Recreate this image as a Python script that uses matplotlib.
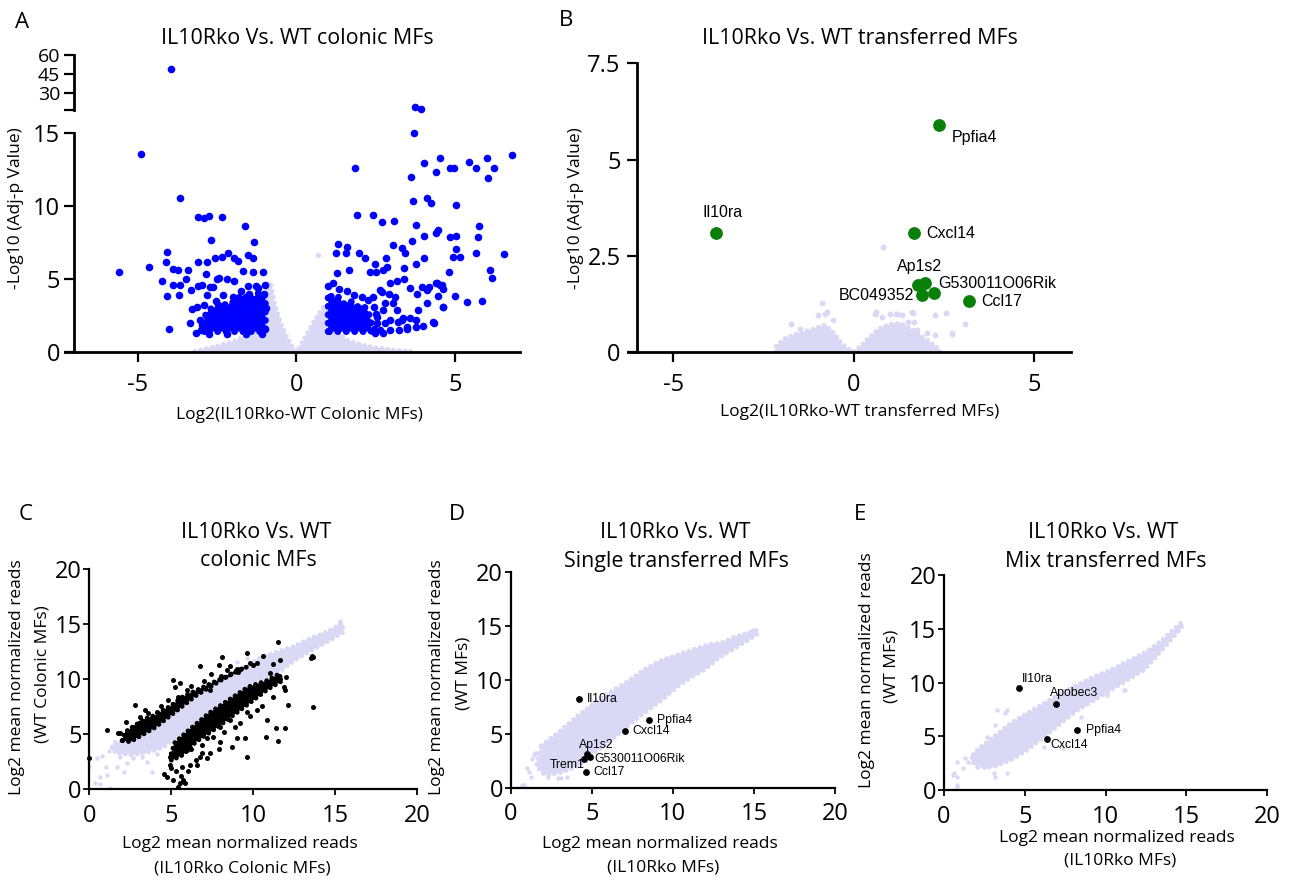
import numpy as np
import matplotlib
matplotlib.use("Agg")
import matplotlib.pyplot as plt

W, H = 1292, 881
LAV = "#d9d9f6"
BLUE = "#0000ff"
GREEN = "#0a7f0a"
FONT = "Open Sans"
GENE_FONT = "Liberation Sans"

# ---------------- panel A (volcano, colonic) ----------------
a_bg_outline = [(-3.2, 0.05), (-2.6, 0.35), (-2.0, 0.7), (-1.5, 1.2), (-1.15, 2.4), (-0.95, 4.0),
                (-0.82, 4.8), (-0.7, 3.4), (-0.5, 2.0), (-0.3, 1.0), (-0.12, 0.3), (0.0, 0.02),
                (0.12, 0.4), (0.3, 1.1), (0.5, 1.9), (0.7, 2.6), (0.85, 3.1), (0.98, 3.2),
                (1.2, 1.6), (1.6, 0.8), (2.2, 0.4), (3.0, 0.15), (3.6, 0.05), (3.6, 0.0), (-3.2, 0.0)]
a_bg_pts = [(0.67, 6.67)]
a_left_core = [(-2.9, 1.4), (-2.9, 2.4), (-2.75, 2.9), (-2.55, 3.1), (-2.4, 3.4), (-2.2, 3.2),
               (-2.0, 3.4), (-1.85, 3.7), (-1.65, 3.9), (-1.45, 3.5), (-1.25, 4.0), (-1.05, 4.1),
               (-0.98, 3.7), (-0.98, 1.4)]
a_right_core = [(1.0, 1.4), (1.0, 4.0), (1.15, 3.7), (1.3, 3.8), (1.5, 3.3), (1.7, 3.5),
                (1.9, 3.1), (2.1, 3.2), (2.25, 2.8), (2.35, 2.1), (2.35, 1.4)]
a_blue_pts = [
    (-4.89, 13.58), (-3.67, 10.55), (-3.09, 9.22), (-2.91, 9.16), (-2.76, 9.34), (-2.36, 9.22),
    (-1.63, 8.65), (-2.69, 7.65), (-1.33, 7.53), (-4.09, 6.83), (-2.15, 6.80), (-1.52, 6.64),
    (-2.34, 6.53), (-2.58, 6.46), (-1.96, 6.42), (-1.83, 6.26), (-1.36, 6.46), (-4.11, 6.14),
    (-4.64, 5.84), (-5.58, 5.46), (-3.09, 6.14), (-2.81, 6.14), (-3.88, 5.66), (-3.72, 5.62),
    (-3.43, 5.62), (-1.68, 5.55), (-1.38, 5.46), (-1.04, 5.46), (-2.85, 5.34), (-4.24, 4.84),
    (-3.48, 5.02), (-3.90, 4.57), (-3.67, 4.57), (-2.51, 5.02), (-2.43, 5.05), (-2.19, 5.0),
    (-1.96, 4.86), (-1.54, 4.54), (-1.26, 4.50), (-1.01, 3.95), (-3.33, 4.25), (-3.09, 4.54),
    (-2.98, 4.61), (-2.72, 4.43), (-2.64, 4.43), (-4.09, 3.84), (-3.70, 3.90), (-2.81, 3.88),
    (-3.30, 2.95), (-3.14, 3.11), (-3.34, 2.01), (-4.00, 1.55), (-3.18, 1.32), (-2.99, 1.85),
    (-2.9, 3.2), (-2.55, 3.5), (-2.3, 3.9), (-2.0, 3.8), (-1.75, 4.2), (-1.5, 3.95), (-1.2, 4.35),
    (-1.0, 4.6), (-1.15, 2.9), (-0.95, 3.0), (-3.05, 2.2), (-3.0, 1.5), (-2.75, 1.25),
    (-2.2, 1.25), (-1.6, 1.25), (-1.1, 1.25), (-1.0, 1.6),
    (1.84, 12.63), (4.03, 12.97), (4.52, 13.31), (5.44, 13.04), (5.99, 13.31), (4.41, 12.31),
    (4.83, 12.63), (4.96, 12.63), (5.67, 12.63), (3.61, 11.99), (6.04, 11.89), (6.80, 13.47),
    (6.22, 12.63), (3.70, 15.0), (3.66, 10.37), (4.10, 10.57), (4.23, 10.18), (5.04, 10.09),
    (1.92, 9.41), (2.41, 9.41), (2.68, 8.88), (3.08, 8.99), (3.76, 8.70), (5.76, 8.65),
    (4.03, 7.97), (4.41, 8.13), (4.47, 8.36), (4.83, 7.90), (5.04, 7.97), (5.73, 7.90),
    (3.63, 7.60), (3.05, 7.31), (3.32, 7.12), (3.42, 6.76), (1.32, 7.40), (1.26, 6.80),
    (1.58, 7.17), (1.56, 6.76), (1.98, 6.80), (2.16, 6.46), (2.82, 6.46), (2.47, 6.00),
    (2.71, 5.62), (2.84, 5.84), (3.75, 6.03), (4.03, 6.46), (4.92, 6.53), (5.15, 6.53),
    (5.04, 7.03), (5.64, 6.76), (6.54, 6.74), (4.80, 5.48), (1.29, 5.43), (1.65, 5.62),
    (2.32, 5.48), (2.51, 5.50), (3.39, 5.73), (3.39, 5.02), (6.10, 5.59), (6.16, 5.09),
    (4.62, 4.32), (4.99, 3.81), (5.36, 3.45), (5.85, 3.52), (4.31, 2.03), (3.97, 1.80),
    (3.77, 1.69), (3.47, 1.55), (3.24, 1.51), (3.36, 2.35), (3.57, 2.35), (3.83, 2.88),
    (4.10, 3.33), (4.52, 4.59), (4.43, 4.70), (3.96, 4.43), (3.81, 3.97), (4.18, 4.47),
    (3.57, 4.36), (3.16, 4.89), (2.95, 4.70), (2.68, 4.13), (2.92, 3.97), (3.10, 3.79),
    (4.61, 3.08), (4.32, 1.99), (4.46, 3.81), (4.57, 4.57), (4.40, 4.73),
    (2.63, 1.51), (2.79, 1.96), (2.94, 2.19), (3.16, 2.88), (3.05, 3.33), (3.31, 2.19),
    (2.53, 2.42), (2.74, 2.88), (2.42, 3.79), (2.63, 4.25), (2.79, 3.33), (2.47, 1.28),
    (2.74, 1.28), (2.94, 1.51), (3.20, 2.08), (3.47, 1.74), (3.78, 2.19), (4.10, 4.25),
    (4.63, 3.11), (1.0, 4.5), (1.15, 4.75), (1.35, 4.3), (1.6, 4.2), (1.8, 3.9), (2.05, 3.75),
    (2.25, 3.55), (2.45, 3.1), (2.5, 2.6), (2.55, 2.0), (2.45, 1.6),
]
a_blue_top = [(-3.96, 48.7), (3.73, 18.8), (3.91, 16.9)]

# ---------------- panel B (volcano, transferred) ----------------
b_bg_outline = [(-2.15, 0.15), (-1.9, 0.35), (-1.5, 0.5), (-1.1, 0.6), (-0.8, 0.7), (-0.6, 0.55),
                (-0.4, 0.3), (-0.2, 0.1), (0.0, 0.01), (0.2, 0.15), (0.4, 0.35), (0.7, 0.6),
                (1.0, 0.72), (1.3, 0.75), (1.6, 0.6), (1.9, 0.4), (2.2, 0.2), (2.4, 0.05),
                (2.4, 0.0), (-2.15, 0.0)]
b_bg_pts = [(0.82, 2.73), (-0.88, 1.27), (-0.79, 1.0), (-0.56, 0.82), (-1.75, 0.74), (-1.92, 0.22),
            (0.6, 1.0), (1.17, 1.0), (1.65, 1.02), (2.26, 0.97), (2.56, 1.01), (3.08, 0.74),
            (2.73, 0.48), (2.26, 0.43), (1.96, 0.26), (-0.75, 1.03), (0.61, 1.03), (1.01, 1.0),
            (1.21, 1.0), (1.61, 1.03), (1.52, 0.79), (1.68, 0.79), (2.03, 0.49), (2.72, 0.49),
            (1.75, 0.57), (-1.3, 0.5), (-1.5, 0.6), (-1.0, 0.95), (0.8, 0.9), (1.35, 0.95)]
b_green_pts = [(-3.81, 3.09), (2.38, 5.91), (1.68, 3.09), (1.79, 1.73), (1.98, 1.79),
               (1.89, 1.47), (2.23, 1.52), (3.20, 1.32)]
b_labels = ["Il10ra", "Ppfia4", "Cxcl14", "Ap1s2", "G530011O06Rik", "BC049352", "Ccl17"]
b_label_pos = [(-3.64, 3.62, "center"), (2.71, 5.56, "left"), (2.01, 3.09, "left"),
               (1.84, 2.23, "center"), (2.34, 1.77, "left"), (1.68, 1.47, "right"),
               (3.53, 1.32, "left")]

# ---------------- panel C (scatter, colonic) ----------------
c_bg_outline = [(1.4, 3.8), (1.6, 4.3), (2.4, 4.1), (4.0, 5.4), (5.3, 6.9), (6.5, 8.3), (7.7, 9.4),
                (8.9, 10.6), (9.7, 11.3), (10.5, 12.0), (11.5, 12.5), (12.5, 13.0), (13.5, 13.7),
                (14.5, 14.3), (15.4, 15.1), (15.5, 14.3), (14.5, 13.4), (13.5, 12.6), (12.5, 11.7),
                (11.8, 10.9), (10.96, 10.2), (9.74, 9.6), (8.52, 8.39), (7.3, 7.18), (6.08, 5.67),
                (5.06, 4.45), (4.5, 3.8), (3.5, 3.3), (2.5, 3.1), (1.6, 3.3)]
c_bg_pts = [(0.0, 2.0), (0.45, 2.8), (0.65, 1.1), (0.65, 0.5), (1.26, 0.06), (1.67, 2.0),
            (2.11, 1.58), (2.68, 2.79), (2.89, 3.24), (3.5, 2.48), (3.8, 1.58), (2.28, 2.33),
            (1.06, 1.27), (0.35, 0.52), (1.0, 1.97), (12.85, 12.9), (14.07, 13.85), (14.67, 14.15),
            (15.08, 14.6), (15.28, 15.3), (12.44, 12.6), (13.66, 13.4), (1.2, 3.5), (0.8, 3.0),
            (1.9, 2.9), (3.2, 2.9), (4.1, 3.2), (9.0, 11.6), (9.6, 11.9)]
c_upper_band = [(2.0, 4.4), (2.2, 5.2), (2.6, 5.6), (3.4, 6.4), (4.0, 6.7), (5.0, 7.6), (5.7, 8.4),
                (6.7, 9.1), (7.7, 9.8), (8.5, 10.3), (9.4, 11.0), (9.6, 11.1), (8.9, 10.7),
                (7.7, 9.6), (6.5, 8.5), (5.3, 7.1), (4.0, 5.6), (2.5, 4.3)]
c_lower_band = [(5.0, 3.2), (5.2, 4.2), (6.1, 5.4), (7.3, 6.9), (8.5, 8.1), (9.7, 9.3),
                (10.9, 9.9), (11.6, 10.5), (11.7, 9.8), (10.9, 9.1), (10.1, 8.2), (9.3, 7.3),
                (8.5, 6.4), (7.7, 5.5), (6.5, 4.3), (5.7, 3.1), (5.0, 2.6)]
c_black_pts = [
    (11.48, 13.39), (13.62, 12.03), (13.55, 12.15), (13.5, 11.95), (13.66, 7.48), (11.93, 9.0),
    (12.13, 7.64), (11.38, 5.52), (11.93, 5.52), (11.52, 4.39), (10.75, 4.76), (9.63, 2.94),
    (9.49, 4.61), (8.98, 4.61), (8.68, 3.85), (7.97, 4.30), (7.56, 4.76), (7.36, 3.24),
    (7.15, 2.79), (6.75, 2.94), (6.54, 2.18), (6.14, 2.18), (5.93, 3.55), (5.63, 2.03),
    (5.73, 0.82), (5.43, 0.21), (5.12, 0.82), (4.72, 1.12), (4.57, 1.36), (4.92, 2.94),
    (4.92, 2.18), (5.53, 0.52), (5.83, 0.52), (1.06, 5.36), (1.77, 5.12), (2.24, 6.12),
    (2.78, 7.64), (3.39, 7.18), (6.75, 11.21), (7.91, 11.33), (8.07, 12.03), (9.59, 12.39),
    (10.61, 12.09), (9.09, 10.67), (5.08, 9.91), (5.53, 9.61), (5.22, 9.3), (0.0, 2.79),
    (11.63, 11.73), (11.22, 11.42), (10.0, 11.27), (10.2, 11.5), (8.37, 10.8), (7.36, 9.0),
    (5.93, 9.0), (4.1, 7.03), (3.7, 6.27), (3.09, 6.58), (2.68, 5.67), (1.87, 5.06),
    (10.81, 6.27), (10.2, 7.18), (9.59, 7.03), (9.19, 5.97), (8.58, 6.27), (7.97, 5.67),
    (7.76, 5.97), (6.2, 3.6), (6.9, 4.0), (7.2, 4.6), (8.2, 5.2), (8.9, 5.6), (9.8, 6.6),
    (10.5, 7.6), (11.2, 8.4), (11.9, 9.3), (12.0, 10.2), (11.6, 10.0), (11.0, 10.6),
    (5.3, 1.6), (5.6, 1.2), (6.0, 1.6), (5.0, 1.9), (2.3, 5.0), (3.0, 6.0), (4.5, 7.2),
    (5.4, 8.4), (6.2, 9.4), (7.0, 9.8), (8.0, 10.3), (9.0, 10.9), (9.8, 11.5), (8.6, 11.2),
    (7.4, 10.5), (3.6, 6.9), (4.4, 7.6), (4.8, 8.1), (6.5, 2.6), (7.9, 3.6), (6.9, 3.3),
]

# ---------------- panel D (scatter, single transferred) ----------------
d_bg_outline = [(1.9, 3.9), (3.1, 5.3), (4.1, 6.6), (5.1, 7.8), (6.2, 8.9), (7.2, 9.8), (8.2, 10.9),
                (9.3, 11.8), (10.3, 12.3), (11.3, 12.8), (12.3, 13.3), (13.0, 13.4), (13.9, 14.0),
                (15.2, 14.6), (15.2, 14.2), (13.9, 13.0), (12.9, 12.1), (11.9, 10.9), (10.9, 10.0),
                (10.3, 9.4), (9.3, 8.1), (8.2, 6.9), (7.2, 5.7), (6.2, 4.4), (5.1, 3.2), (4.1, 2.0),
                (3.1, 1.4), (2.1, 1.2), (1.6, 2.0)]
d_bg_pts = [(0.68, 0.25), (0.99, 1.85), (1.5, 3.18), (1.81, 2.87), (2.22, 2.25), (1.6, 2.25),
            (2.63, 1.33), (2.94, 0.86), (2.32, 1.02), (0.82, 0.25), (1.64, 3.18), (1.44, 3.02),
            (1.85, 2.41), (2.26, 2.1), (1.23, 1.02), (3.08, 0.86), (13.73, 13.98), (14.24, 13.98),
            (14.96, 14.6), (13.42, 13.36), (1.3, 2.7), (1.1, 1.5), (2.0, 1.6), (2.7, 2.0), (3.5, 1.0)]
d_black_pts = [(4.21, 8.18), (8.53, 6.27), (7.05, 5.28), (4.73, 3.12), (4.88, 2.82),
               (4.52, 2.62), (4.62, 1.48)]
d_labels = ["Il10ra", "Ppfia4", "Cxcl14", "Ap1s2", "G530011O06Rik", "Trem1", "Ccl17"]
d_label_pos = [(4.69, 8.18, "left"), (9.04, 6.3, "left"), (7.5, 5.28, "left"), (5.28, 3.95, "center"),
               (5.14, 2.62, "left"), (4.56, 2.1, "right"), (5.1, 1.48, "left")]

# ---------------- panel E (scatter, mix transferred) ----------------
e_bg_outline = [(1.8, 3.3), (2.06, 3.72), (3.09, 4.96), (4.12, 6.2), (5.15, 7.13), (6.19, 8.06),
                (7.22, 8.99), (8.25, 9.77), (9.28, 10.54), (10.31, 11.16), (11.34, 11.94),
                (12.37, 12.71), (13.4, 13.8), (14.7, 15.6), (14.7, 15.1), (13.4, 12.9),
                (12.37, 11.16), (11.34, 10.23), (10.31, 9.3), (9.28, 8.37), (8.25, 7.44),
                (7.22, 6.2), (6.19, 4.96), (5.15, 3.72), (4.12, 2.79), (3.09, 2.17), (2.06, 2.17),
                (1.7, 2.7)]
e_bg_pts = [(0.78, 0.31), (0.58, 1.4), (0.78, 2.64), (1.2, 2.02), (2.02, 2.17), (2.64, 4.96),
            (3.15, 6.05), (3.88, 7.44), (5.84, 7.44), (11.2, 9.3), (9.2, 8.37), (7.38, 3.88),
            (8.62, 7.91), (3.15, 1.24), (2.74, 2.17), (3.3, 7.44), (3.77, 7.13), (10.1, 8.84),
            (11.13, 9.3), (0.82, 1.24), (0.62, 1.55), (0.82, 0.47), (2.47, 2.17), (3.09, 1.55),
            (3.92, 1.55), (8.45, 6.82), (6.19, 4.03), (1.5, 2.6), (1.9, 3.0), (1.3, 3.0)]
e_black_pts = [(4.64, 9.52), (6.91, 8.0), (8.25, 5.58), (6.39, 4.71)]
e_labels = ["Il10ra", "Apobec3", "Ppfia4", "Cxcl14"]
e_label_pos = [(4.8, 10.29, "left"), (6.56, 9.05, "left"), (8.76, 5.58, "left"), (6.6, 4.19, "left")]

plt.rcParams["font.family"] = [FONT, "DejaVu Sans"]
plt.rcParams["axes.unicode_minus"] = False

fig = plt.figure(figsize=(W / 100, H / 100), dpi=100)

TICK_SIZE = 17
TITLE_SIZE = 15.4
LABEL_SIZE = 12.5


def px_rect(x0, y0, x1, y1):
    return [x0 / W, 1 - y1 / H, (x1 - x0) / W, (y1 - y0) / H]


def ftext(px, py, s, size, **kw):
    kw.setdefault("ha", "center")
    kw.setdefault("va", "center")
    fig.text(px / W, 1 - py / H, s, fontsize=size, **kw)


def xy(pts):
    arr = np.array(pts, dtype=float)
    return arr[:, 0], arr[:, 1]


def style(ax, lw, tick_len, xpad, ypad, size=TICK_SIZE):
    for s in ("top", "right"):
        ax.spines[s].set_visible(False)
    for s in ("left", "bottom"):
        ax.spines[s].set_linewidth(lw)
    ax.tick_params(direction="out", length=tick_len, width=lw * 0.8, labelsize=size)
    ax.tick_params(axis="x", pad=xpad)
    ax.tick_params(axis="y", pad=ypad)
    ax.set_facecolor("none")


def blob(ax, outline, color, z, bead=4.0):
    # dense point cloud: filled outline with a beaded (dotted) rim
    ox, oy = xy(outline)
    ax.fill(ox, oy, color=color, lw=0, zorder=z)
    cx = np.append(ox, ox[0])
    cy = np.append(oy, oy[0])
    ax.plot(cx, cy, color=color, lw=bead, ls=(0, (0.01, 1.2)),
            dash_capstyle="round", zorder=z)


def cloud(ax, outline, pts, s=10):
    blob(ax, outline, LAV, 1, bead=3.5)
    px_, py_ = xy(pts)
    ax.scatter(px_, py_, s=s, color=LAV, lw=0, zorder=1)


# ---- A ----
axA = fig.add_axes(px_rect(64.7, 133, 520.3, 352))
cloud(axA, a_bg_outline, a_bg_pts, s=14)
for core in (a_left_core, a_right_core):
    blob(axA, core, BLUE, 2, bead=5.0)
bx, by = xy(a_blue_pts)
axA.scatter(bx, by, s=30, color=BLUE, lw=0, zorder=3, clip_on=False)
axA.set_xlim(-7.3, 7.05)
axA.set_ylim(0, 15)
axA.spines["left"].set_position(("data", -7))
axA.set_xticks([-5, 0, 5])
axA.set_yticks([0, 5, 10, 15])
style(axA, 2.0, 7, 8, 3)

axA2 = fig.add_axes(px_rect(64.7, 55, 520.3, 110))
tx, ty = xy(a_blue_top)
axA2.scatter(tx, ty, s=30, color=BLUE, lw=0, zorder=3, clip_on=False)
axA2.set_xlim(-7.3, 7.05)
axA2.set_ylim(16, 60)
axA2.spines["left"].set_position(("data", -7))
axA2.set_xticks([])
axA2.set_yticks([16, 30, 45, 60])
axA2.set_yticklabels(["", "30", "45", "60"])
style(axA2, 2.0, 7, 8, 3, size=14)
axA2.spines["bottom"].set_visible(False)

ftext(22, 22, "A", 16)
ftext(297.5, 39, "IL10Rko Vs. WT colonic MFs", TITLE_SIZE)
ftext(299, 415, "Log2(IL10Rko-WT Colonic MFs)", LABEL_SIZE)
ftext(16, 208, "-Log10 (Adj-p Value)", LABEL_SIZE, rotation=90)

# ---- B ----
axB = fig.add_axes(px_rect(628, 63.3, 1070.9, 352))
cloud(axB, b_bg_outline, b_bg_pts, s=18)
gx, gy = xy(b_green_pts)
axB.scatter(gx, gy, s=85, color=GREEN, lw=0, zorder=3)
for name, (lx, ly, ha) in zip(b_labels, b_label_pos):
    axB.text(lx, ly, name, fontsize=11.5, family=GENE_FONT, ha=ha, va="center", zorder=4)
axB.set_xlim(-6.26, 6.03)
axB.set_ylim(0, 7.5)
axB.spines["left"].set_position(("data", -6))
axB.set_xticks([-5, 0, 5])
axB.set_yticks([0, 2.5, 5, 7.5])
axB.set_yticklabels(["0", "2.5", "5", "7.5"])
style(axB, 2.0, 7, 8, 5)

ftext(566, 20, "B", 16)
ftext(860, 38, "IL10Rko Vs. WT transferred MFs", TITLE_SIZE)
ftext(860, 412, "Log2(IL10Rko-WT transferred MFs)", LABEL_SIZE)
ftext(576, 208, "-Log10 (Adj-p Value)", LABEL_SIZE, rotation=90)


# ---- C, D, E ----
def scatter_panel(rect, outline, bg_pts):
    ax = fig.add_axes(px_rect(*rect))
    cloud(ax, outline, bg_pts, s=10)
    ax.set_xlim(0, 20)
    ax.set_ylim(0, 20)
    ax.set_xticks([0, 5, 10, 15, 20])
    ax.set_yticks([0, 5, 10, 15, 20])
    style(ax, 1.6, 4.5, 6, 1)
    return ax


axC = scatter_panel((89.3, 569.3, 417.3, 789), c_bg_outline, c_bg_pts)
for band in (c_upper_band, c_lower_band):
    blob(axC, band, "black", 2, bead=3.5)
kx, ky = xy(c_black_pts)
axC.scatter(kx, ky, s=13, color="black", lw=0, zorder=3, clip_on=False)

axD = scatter_panel((510.7, 571.7, 835, 787.7), d_bg_outline, d_bg_pts)
kx, ky = xy(d_black_pts)
axD.scatter(kx, ky, s=24, color="black", lw=0, zorder=3)
for name, (lx, ly, ha) in zip(d_labels, d_label_pos):
    axD.text(lx, ly, name, fontsize=8.8, family=GENE_FONT, ha=ha, va="center", zorder=4)

axE = scatter_panel((944, 575, 1267.3, 790), e_bg_outline, e_bg_pts)
kx, ky = xy(e_black_pts)
axE.scatter(kx, ky, s=24, color="black", lw=0, zorder=3)
for name, (lx, ly, ha) in zip(e_labels, e_label_pos):
    axE.text(lx, ly, name, fontsize=8.8, family=GENE_FONT, ha=ha, va="center", zorder=4)

ftext(26, 515, "C", 16)
ftext(256, 532.7, "IL10Rko Vs. WT", TITLE_SIZE)
ftext(258, 561, "colonic MFs", TITLE_SIZE)
ftext(240, 844, "Log2 mean normalized reads", LABEL_SIZE)
ftext(242.5, 868.3, "(IL10Rko Colonic MFs)", LABEL_SIZE)
ftext(17.3, 676.7, "Log2 mean normalized reads", LABEL_SIZE, rotation=90)
ftext(42.7, 674, "(WT Colonic MFs)", LABEL_SIZE, rotation=90)

ftext(457, 515, "D", 16)
ftext(675, 532.7, "IL10Rko Vs. WT", TITLE_SIZE)
ftext(676.7, 561.7, "Single transferred MFs", TITLE_SIZE)
ftext(660.3, 844, "Log2 mean normalized reads", LABEL_SIZE)
ftext(662.8, 868, "(IL10Rko MFs)", LABEL_SIZE)
ftext(437.3, 676.7, "Log2 mean normalized reads", LABEL_SIZE, rotation=90)
ftext(463.3, 673.3, "(WT MFs)", LABEL_SIZE, rotation=90)

ftext(860, 515, "E", 16)
ftext(1103, 532.7, "IL10Rko Vs. WT", TITLE_SIZE)
ftext(1105.5, 561.7, "Mix transferred MFs", TITLE_SIZE)
ftext(1117.3, 838.3, "Log2 mean normalized reads", LABEL_SIZE)
ftext(1119.7, 860.7, "(IL10Rko MFs)", LABEL_SIZE)
ftext(866.7, 670, "Log2 mean normalized reads", LABEL_SIZE, rotation=90)
ftext(891.7, 666.7, "(WT MFs)", LABEL_SIZE, rotation=90)

fig.savefig("out.png", dpi=100)
